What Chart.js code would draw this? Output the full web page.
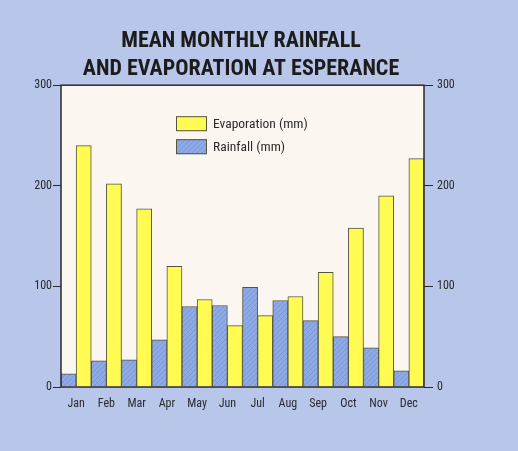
<!DOCTYPE html>
<html>
<head>
<meta charset="utf-8">
<script src="https://cdn.jsdelivr.net/npm/chart.js@4/dist/chart.umd.min.js"></script>
<style>
  html, body { margin: 0; padding: 0; background: #b8c6ea; }
  #wrap { width: 518px; height: 451px; }
</style>
</head>
<body>
<div id="wrap"><canvas id="chart" width="518" height="451"></canvas></div>
<script>
const months = ["Jan", "Feb", "Mar", "Apr", "May", "Jun", "Jul", "Aug", "Sep", "Oct", "Nov", "Dec"];
const rainfall = [13, 26, 27, 47, 80, 81, 99, 86, 66, 50, 39, 16];
const evaporation = [240, 202, 177, 120, 87, 61, 71, 90, 114, 158, 190, 227];
const yTicks = [0, 100, 200, 300];

const narrow = "'Roboto Condensed', 'Liberation Sans', Arial, sans-serif";
const ink = "#2a2a2a";
const barEdge = "#55553f";

// hatched blue fill for rainfall
function hatch() {
  const c = document.createElement("canvas");
  c.width = 5; c.height = 5;
  const g = c.getContext("2d");
  g.fillStyle = "#8eaae6";
  g.fillRect(0, 0, 5, 5);
  g.strokeStyle = "#7b97d6";
  g.lineWidth = 1;
  g.beginPath();
  g.moveTo(0, 5); g.lineTo(5, 0);
  g.moveTo(-1, 1); g.lineTo(1, -1);
  g.moveTo(4, 6); g.lineTo(6, 4);
  g.stroke();
  return g.createPattern(c, "repeat");
}
const rainFill = hatch();
const evapFill = "#fffb52";

// cream plot panel with a dark frame
const panel = {
  id: "panel",
  beforeDatasetsDraw(chart) {
    const { ctx, chartArea: a } = chart;
    ctx.save();
    ctx.fillStyle = "#fcf6f0";
    ctx.fillRect(a.left, a.top, a.right - a.left, a.bottom - a.top);
    ctx.restore();
  },
  afterDatasetsDraw(chart) {
    const { ctx, chartArea: a } = chart;
    ctx.save();
    ctx.strokeStyle = ink;
    ctx.lineWidth = 1.5;
    ctx.strokeRect(a.left, a.top, a.right - a.left, a.bottom - a.top);
    ctx.restore();
  }
};

// legend boxes inside the plot
const boxLegend = {
  id: "boxLegend",
  afterDraw(chart) {
    const { ctx, chartArea: a } = chart;
    const x = a.left + 115, y0 = a.top + 31;
    const items = [
      { fill: evapFill, text: "Evaporation (mm)" },
      { fill: rainFill, text: "Rainfall (mm)" }
    ];
    ctx.save();
    ctx.font = "13.5px " + narrow;
    ctx.textBaseline = "middle";
    items.forEach((it, i) => {
      const y = y0 + i * 23;
      ctx.fillStyle = it.fill;
      ctx.fillRect(x, y, 31, 15);
      ctx.strokeStyle = barEdge;
      ctx.lineWidth = 1;
      ctx.strokeRect(x + 0.5, y + 0.5, 30, 14);
      ctx.fillStyle = ink;
      ctx.fillText(it.text, x + 37, y + 8);
    });
    ctx.restore();
  }
};

const tickOpts = { color: ink, font: { family: narrow, size: 12 } };

new Chart(document.getElementById("chart"), {
  type: "bar",
  data: {
    labels: months,
    datasets: [
      { label: "Rainfall (mm)", data: rainfall, backgroundColor: rainFill, borderColor: barEdge, borderWidth: 1 },
      { label: "Evaporation (mm)", data: evaporation, backgroundColor: evapFill, borderColor: barEdge, borderWidth: 1 }
    ]
  },
  options: {
    responsive: false,
    animation: false,
    layout: { padding: { left: 0, right: 36, top: 0, bottom: 0 } },
    datasets: { bar: { barPercentage: 1, categoryPercentage: 1 } },
    plugins: {
      legend: { display: false },
      tooltip: { enabled: false },
      title: {
        display: true,
        text: ["MEAN MONTHLY RAINFALL", "AND EVAPORATION AT ESPERANCE"],
        color: "#1c1c1c",
        font: { family: narrow, size: 22, weight: "bold", lineHeight: 1.3 },
        padding: { top: 27, bottom: 1 }
      }
    },
    scales: {
      x: {
        grid: { display: false },
        border: { display: false },
        ticks: { ...tickOpts, padding: 2, maxRotation: 0 },
        afterFit(s) { s.height = 64; }
      },
      y: {
        min: 0, max: 300,
        afterBuildTicks(s) { s.ticks = yTicks.map(v => ({ value: v })); },
        grid: { drawOnChartArea: false, color: ink, tickLength: 8 },
        border: { display: false },
        ticks: { ...tickOpts, padding: 1 },
        afterFit(s) { s.width = 61; }
      },
      y2: {
        position: "right",
        min: 0, max: 300,
        afterBuildTicks(s) { s.ticks = yTicks.map(v => ({ value: v })); },
        grid: { drawOnChartArea: false, color: ink, tickLength: 9 },
        border: { display: false },
        ticks: { ...tickOpts, padding: 4 },
        afterFit(s) { s.width = 58; }
      }
    }
  },
  plugins: [panel, boxLegend]
});
</script>
</body>
</html>
